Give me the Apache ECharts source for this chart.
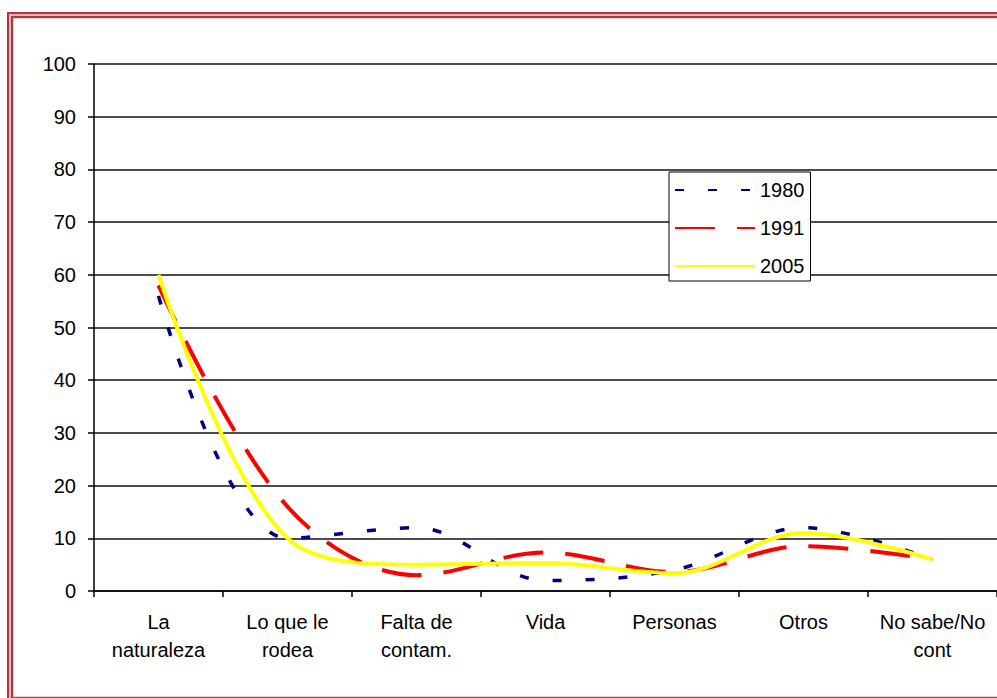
<!DOCTYPE html>
<html>
<head>
<meta charset="utf-8">
<script src="https://cdn.jsdelivr.net/npm/echarts@6/dist/echarts.min.js"></script>
<style>
    html, body { margin: 0; padding: 0; background: #fff; overflow: hidden; }
    /* marco doble rojizo alrededor del gráfico */
    .frame {
        position: absolute; left: 7px; top: 12px; width: 1010px; height: 691px;
        box-sizing: border-box;
        border: 2px solid #a83a42;
        box-shadow: inset 0 0 0 2px #e6b3b6, inset 0 0 0 4px #a83a42, inset 0 0 0 5px #efcfd1;
    }
    #chart { position: absolute; left: 0; top: 0; width: 997px; height: 698px; }
</style>
</head>
<body>
<div class="frame"></div>
<div id="chart"></div>
<script>
// === datos ===
const categories = ['La\nnaturaleza', 'Lo que le\nrodea', 'Falta de\ncontam.', 'Vida', 'Personas', 'Otros', 'No sabe/No\ncont'];
const years = ['1980', '1991', '2005'];
const values1980 = [56, 10, 12, 2, 4, 12, 6];
const values1991 = [58, 16, 3, 7.3, 3.6, 8.5, 6];
const values2005 = [60, 10, 5, 5.3, 3.4, 11, 6];
const yTicks = { min: 0, max: 100, interval: 10 };

const FONT = 'Liberation Sans, Arial, sans-serif';
const SMOOTH = 0.35;

const chart = echarts.init(document.getElementById('chart'), null, { renderer: 'svg' });

const option = {
    animation: false,
    textStyle: { fontFamily: FONT },
    grid: { left: 94, top: 64, right: 0, bottom: 107 },
    legend: {
        orient: 'vertical',
        left: 669, top: 172,
        data: years,
        backgroundColor: '#fff',
        borderColor: '#000',
        borderWidth: 1,
        padding: [8, 6, 5, 5],
        itemWidth: 80,
        itemHeight: 14,
        itemGap: 18,
        // sin punto en el icono, solo la línea
        itemStyle: { opacity: 0 },
        textStyle: { fontSize: 20, color: '#000', fontFamily: FONT }
    },
    xAxis: {
        type: 'category',
        data: categories,
        boundaryGap: true,
        axisLine: { lineStyle: { color: '#000', width: 1.5 } },
        axisTick: { show: true, length: 6, lineStyle: { color: '#000', width: 1.5 } },
        axisLabel: {
            color: '#000', fontSize: 20, lineHeight: 28, margin: 17,
            interval: 0, fontFamily: FONT
        }
    },
    yAxis: {
        type: 'value',
        min: yTicks.min, max: yTicks.max, interval: yTicks.interval,
        axisLine: { show: true, lineStyle: { color: '#000', width: 1.5 } },
        axisTick: { show: true, length: 6, lineStyle: { color: '#000', width: 1.5 } },
        splitLine: { lineStyle: { color: '#111', width: 1.5 } },
        axisLabel: { color: '#000', fontSize: 20, margin: 18, fontFamily: FONT }
    },
    series: [
        {
            name: years[0], type: 'line', data: values1980,
            smooth: SMOOTH, symbol: 'none', z: 3,
            itemStyle: { color: '#000080' },
            lineStyle: { color: '#000080', width: 3.5, type: [9, 24] }
        },
        {
            name: years[1], type: 'line', data: values1991,
            smooth: SMOOTH, symbol: 'none', z: 4,
            itemStyle: { color: '#ff0000' },
            lineStyle: { color: '#ff0000', width: 4, type: [40, 22] }
        },
        {
            name: years[2], type: 'line', data: values2005,
            smooth: SMOOTH, symbol: 'none', z: 5,
            itemStyle: { color: '#ffff00' },
            lineStyle: { color: '#ffff00', width: 4 }
        }
    ]
};

chart.setOption(option);
</script>
</body>
</html>
